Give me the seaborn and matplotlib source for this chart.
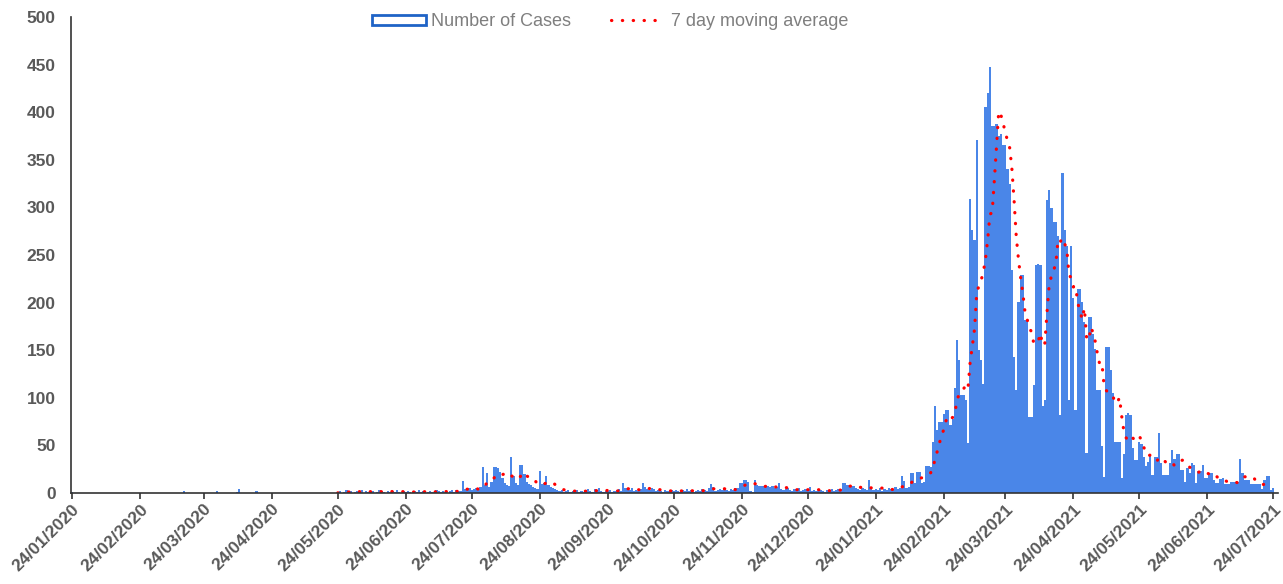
import matplotlib
matplotlib.use("Agg")
import matplotlib.pyplot as plt
from matplotlib.patches import Patch
from matplotlib.lines import Line2D
import seaborn as sns
import pandas as pd
import numpy as np

sns.set_theme(style="white")
plt.rcParams["font.family"] = ["Liberation Sans", "DejaVu Sans"]

# daily cases, one list per month (24th to 23rd of the next month)
cases_jan20 = [1] + [0] * 30
cases_feb20 = [0] * 20 + [2] + [0] * 8
cases_mar20 = [0] * 6 + [2] + [0] * 8 + [1, 4] + [0] * 7 + [2] + [0] * 6
cases_apr20 = [0] * 30
cases_may20 = [1, 2, 0, 1, 3, 1, 2, 0, 1, 2, 1, 3, 0, 2, 1, 1, 2, 0, 1, 3,
               2, 1, 0, 2, 1, 2, 1, 3, 1, 0, 2]
cases_jun20 = [1, 2, 1, 0, 2, 1, 3, 1, 2, 0, 1, 2, 1, 1, 3, 2, 1, 2, 1, 0,
               2, 3, 1, 3, 2, 2, 13, 4, 3, 5]
cases_jul20 = [3, 4, 5, 3, 6, 27, 8, 21, 6, 12, 27, 27, 26, 22, 16, 10, 8, 7,
               38, 18, 10, 8, 29, 29, 20, 12, 9, 8, 6, 5, 4]
cases_aug20 = [23, 9, 11, 18, 8, 6, 5, 4, 3, 2, 3, 1, 2, 3, 1, 2, 2, 3, 1, 2,
               1, 3, 4, 2, 1, 4, 3, 5, 2, 1, 2]
cases_sep20 = [2, 3, 1, 2, 3, 4, 2, 11, 5, 4, 3, 5, 2, 3, 2, 4, 11, 6, 4, 3,
               5, 4, 2, 3, 2, 1, 3, 2, 2, 3]
cases_oct20 = [2, 3, 2, 1, 3, 2, 4, 2, 3, 1, 2, 3, 2, 4, 3, 2, 5, 9, 6, 2,
               3, 4, 3, 5, 3, 2, 4, 3, 5, 5, 11]
cases_nov20 = [11, 14, 14, 12, 2, 1, 14, 8, 7, 7, 7, 6, 7, 6, 7, 5, 6, 11, 4, 3,
               4, 5, 3, 2, 4, 3, 5, 2, 3, 4]
cases_dec20 = [3, 6, 2, 3, 2, 4, 3, 2, 1, 3, 2, 4, 2, 3, 4, 4, 11, 11, 8, 8,
               7, 7, 5, 4, 3, 5, 4, 3, 14, 5, 3]
cases_jan21 = [4, 3, 5, 2, 4, 3, 5, 4, 3, 6, 4, 5, 18, 13, 5, 6, 21, 21, 10, 22,
               22, 10, 12, 28, 28, 27, 54, 91, 66, 75, 75]
cases_feb21 = [83, 87, 87, 71, 78, 110, 161, 140, 103, 103, 98, 53, 309, 276,
               266, 371, 150, 140, 115, 405, 420, 448, 385, 385, 388, 375, 377, 366]
cases_mar21 = [366, 340, 325, 234, 143, 108, 201, 229, 229, 182, 182, 80, 80,
               113, 239, 241, 240, 91, 98, 308, 318, 299, 285, 285, 270, 82, 336,
               276, 259, 98, 259]
cases_apr21 = [205, 87, 214, 214, 201, 180, 42, 185, 185, 167, 151, 108, 108,
               49, 17, 153, 153, 129, 105, 54, 54, 54, 16, 41, 82, 84, 82, 47,
               35, 35]
cases_may21 = [54, 51, 38, 28, 33, 40, 19, 38, 38, 63, 31, 19, 19, 19, 32, 45,
               36, 41, 41, 24, 24, 12, 26, 21, 31, 29, 10, 23, 23, 29, 16]
cases_jun21 = [16, 21, 21, 14, 10, 10, 15, 16, 9, 9, 9, 12, 12, 12, 12, 36, 21,
               14, 14, 14, 9, 9, 9, 9, 9, 4, 14, 18, 18, 3]
cases_jul21 = [5]

tick_labels = ["24/01/2020", "24/02/2020", "24/03/2020", "24/04/2020",
               "24/05/2020", "24/06/2020", "24/07/2020", "24/08/2020",
               "24/09/2020", "24/10/2020", "24/11/2020", "24/12/2020",
               "24/01/2021", "24/02/2021", "24/03/2021", "24/04/2021",
               "24/05/2021", "24/06/2021", "24/07/2021"]

cases = (cases_jan20 + cases_feb20 + cases_mar20 + cases_apr20 + cases_may20
         + cases_jun20 + cases_jul20 + cases_aug20 + cases_sep20 + cases_oct20
         + cases_nov20 + cases_dec20 + cases_jan21 + cases_feb21 + cases_mar21
         + cases_apr21 + cases_may21 + cases_jun21 + cases_jul21)

start = pd.Timestamp("2020-01-24")
df = pd.DataFrame({"day": np.arange(len(cases)), "cases": cases})
df["ma"] = df["cases"].rolling(7, min_periods=1).mean()
ma_start = (pd.Timestamp("2020-05-24") - start).days
ma_df = df[df["day"] >= ma_start]

fig = plt.figure(figsize=(12.83, 5.84), dpi=100)
ax = fig.add_axes([0.0553, 0.1558, 0.9405, 0.8151])

sns.barplot(data=df, x="day", y="cases", color="#4a86e8", saturation=1,
            width=1.0, errorbar=None, native_scale=True, linewidth=0, ax=ax)
dotted = (0, (0.1, 3.3))
sns.lineplot(data=ma_df, x="day", y="ma", color="red", linewidth=2.3,
             linestyle=dotted, dash_capstyle="round", ax=ax)

tick_pos = [(pd.to_datetime(t, dayfirst=True) - start).days for t in tick_labels]
ax.set_xticks(tick_pos)
ax.set_xticklabels(tick_labels, rotation=45, ha="right", rotation_mode="anchor",
                   fontsize=12.5, fontweight="bold", color="#595959")
ax.set_xlim(-0.5, 549)
ax.set_ylim(0, 500)
ax.set_yticks(range(0, 501, 50))
ax.set_yticklabels([str(v) for v in range(0, 501, 50)], fontsize=12.5,
                   fontweight="bold", color="#595959")
ax.set_xlabel("")
ax.set_ylabel("")
ax.tick_params(axis="x", length=4, width=1.2, color="#333333", bottom=True,
               pad=2)
ax.tick_params(axis="y", length=0, pad=11)
for s in ["top", "right"]:
    ax.spines[s].set_visible(False)
for s in ["left", "bottom"]:
    ax.spines[s].set_color("#333333")
    ax.spines[s].set_linewidth(1.2)

handles = [Patch(facecolor="white", edgecolor="#1f63c6", linewidth=2),
           Line2D([], [], color="red", linewidth=2.3, linestyle=dotted,
                  dash_capstyle="round")]
fig.legend(handles, ["Number of Cases", "7 day moving average"],
           loc="center", bbox_to_anchor=(0.4754, 0.963), ncol=2, frameon=False,
           fontsize=13, labelcolor="#7f7f7f", handlelength=3.0,
           handleheight=0.5, columnspacing=2.2, handletextpad=0.3)

fig.savefig("out.png", dpi=100)
plt.close(fig)
